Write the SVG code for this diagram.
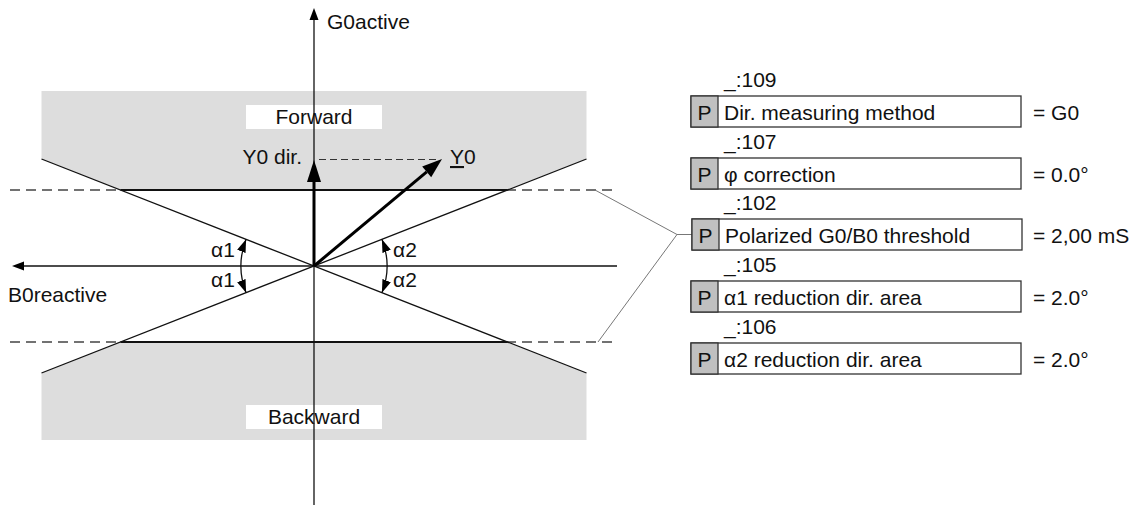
<svg xmlns="http://www.w3.org/2000/svg" width="1135" height="505" viewBox="0 0 1135 505">
<style>
text{font-family:"Liberation Sans",Arial,sans-serif;font-size:21px;fill:#111}
.gray{fill:#dddddd}
.dash{stroke:#444;stroke-width:1.3;stroke-dasharray:10 6;fill:none}
.thin{stroke:#111;stroke-width:1.3;fill:none}
.thick{stroke:#111;stroke-width:2.2;fill:none}
.vec{stroke:#000;stroke-width:3;fill:none}
.head{fill:#000}
.conn{stroke:#777;stroke-width:1;fill:none}
.box{fill:#fff;stroke:#333;stroke-width:1.3}
.pcell{fill:#c0c0c0;stroke:#333;stroke-width:1.3}
.lbl{fill:#fff}
</style>
<defs>
<marker id="ah" viewBox="0 0 13 9" refX="13" refY="4.5" markerWidth="13" markerHeight="9" markerUnits="userSpaceOnUse" orient="auto-start-reverse">
<path d="M0,0 L13,4.5 L0,9 z" fill="#000"/>
</marker>
</defs>
<g id="regions">
<polygon class="gray" points="41.5,91 586.5,91 586.5,159 507.5,190 120.5,190 41.5,159"/>
<polygon class="gray" points="120.5,342 507.5,342 586.5,373 586.5,440 41.5,440 41.5,373"/>
</g>
<g id="forward">
<rect class="lbl" x="246" y="105" width="136" height="24"/>
<text x="314" y="124" text-anchor="middle">Forward</text>
</g>
<g id="backward">
<rect class="lbl" x="246" y="405" width="136" height="24"/>
<text x="314" y="424" text-anchor="middle">Backward</text>
</g>
<g id="connectors">
<line class="dash" x1="10" y1="190" x2="614" y2="190"/>
<line class="dash" x1="10" y1="342" x2="614" y2="342"/>
<line class="thin" x1="41.5" y1="159" x2="586.5" y2="373"/>
<line class="thin" x1="41.5" y1="373" x2="586.5" y2="159"/>
<line class="thick" x1="120.5" y1="190" x2="507.5" y2="190"/>
<line class="thick" x1="120.5" y1="342" x2="507.5" y2="342"/>
<line class="thin" x1="314" y1="20" x2="314" y2="505"/>
<polygon class="head" points="314,8 309.5,20 318.5,20"/>
<line class="thin" x1="24" y1="266" x2="617" y2="266"/>
<polygon class="head" points="12,266 24,261.5 24,270.5"/>
<line class="dash" style="stroke-dasharray:7 4;stroke-width:1.2;stroke:#333" x1="319" y1="159.5" x2="440" y2="159.5"/>
<line class="vec" x1="314" y1="266" x2="314" y2="181"/>
<polygon class="head" points="314,160 307,182 321,182"/>
<line class="vec" x1="314" y1="266" x2="426.7" y2="171.8"/>
<polygon class="head" points="442,159 431.2,177.2 422.2,166.4"/>
<path class="thin" d="M246.1,239.3 A73,73 0 0 0 246.1,292.7" marker-start="url(#ah)" marker-end="url(#ah)"/>
<path class="thin" d="M381.9,239.3 A73,73 0 0 1 381.9,292.7" marker-start="url(#ah)" marker-end="url(#ah)"/>
<polyline class="conn" points="595,190 677,234.5 692,234.5"/>
<line class="conn" x1="598" y1="342" x2="677" y2="234.5"/>
</g>
<g id="axis-labels">
<text x="327" y="29">G0active</text>
<text x="8" y="302">B0reactive</text>
<text x="302" y="164" text-anchor="end">Y0 dir.</text>
<text x="450" y="164"><tspan style="text-decoration:underline">Y</tspan>0</text>
<text x="211" y="256.5">α1</text>
<text x="211" y="286.5">α1</text>
<text x="393" y="256.5">α2</text>
<text x="393" y="286.5">α2</text>
</g>
<g id="p109">
<text x="724" y="87">_:109</text>
<rect class="box" x="691" y="96" width="330" height="31"/>
<rect class="pcell" x="691" y="96" width="27" height="31"/>
<text x="704.5" y="119.5" text-anchor="middle">P</text>
<text x="724" y="119.5">Dir. measuring method</text>
<text x="1033" y="119.5">= G0</text>
</g>
<g id="p107">
<text x="724" y="149">_:107</text>
<rect class="box" x="691" y="158" width="330" height="31"/>
<rect class="pcell" x="691" y="158" width="27" height="31"/>
<text x="704.5" y="181.5" text-anchor="middle">P</text>
<text x="724" y="181.5">φ correction</text>
<text x="1033" y="181.5">= 0.0°</text>
</g>
<g id="p102">
<text x="724" y="210">_:102</text>
<rect class="box" x="692" y="219" width="330" height="31"/>
<rect class="pcell" x="692" y="219" width="27" height="31"/>
<text x="705.5" y="242.5" text-anchor="middle">P</text>
<text x="725" y="242.5">Polarized G0/B0 threshold</text>
<text x="1033" y="242.5">= 2,00 mS</text>
</g>
<g id="p105">
<text x="724" y="272">_:105</text>
<rect class="box" x="691" y="281" width="330" height="31"/>
<rect class="pcell" x="691" y="281" width="27" height="31"/>
<text x="704.5" y="304.5" text-anchor="middle">P</text>
<text x="724" y="304.5">α1 reduction dir. area</text>
<text x="1033" y="304.5">= 2.0°</text>
</g>
<g id="p106">
<text x="724" y="334">_:106</text>
<rect class="box" x="691" y="343" width="330" height="31"/>
<rect class="pcell" x="691" y="343" width="27" height="31"/>
<text x="704.5" y="366.5" text-anchor="middle">P</text>
<text x="724" y="366.5">α2 reduction dir. area</text>
<text x="1033" y="366.5">= 2.0°</text>
</g>
</svg>
